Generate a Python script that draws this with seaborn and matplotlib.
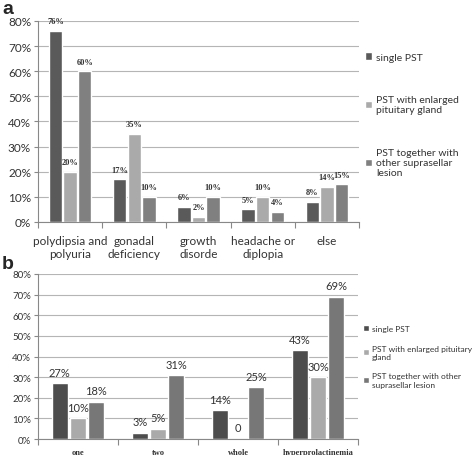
import pandas as pd
import seaborn as sns
import matplotlib.pyplot as plt
from matplotlib.ticker import PercentFormatter, FixedLocator

sns.set_style("white")
plt.rcParams['font.family'] = ['Lato', 'DejaVu Sans']

series = ['single PST', 'PST with enlarged pituitary gland',
          'PST together with other suprasellar lesion']

cats_a = ['polydipsia and\npolyuria', 'gonadal\ndeficiency', 'growth\ndisorde',
          'headache or\ndiplopia', 'else']
single_a = [76, 17, 6, 5, 8]
enlarged_a = [20, 35, 2, 10, 14]
together_a = [60, 10, 10, 4, 15]

cats_b = ['one', 'two', 'whole', 'hyperprolactinemia']
single_b = [27, 3, 14, 43]
enlarged_b = [10, 5, 0, 30]
together_b = [18, 31, 25, 69]

legend_a = ['single PST', 'PST with enlarged\npituitary gland',
            'PST together with\nother suprasellar\nlesion']
legend_b = ['single PST', 'PST with enlarged pituitary\ngland',
            'PST together with other\nsuprasellar lesion']


def make_df(cats, vals):
    rows = []
    for s, v in zip(series, vals):
        for c, x in zip(cats, v):
            rows.append({'cat': c, 'group': s, 'value': x})
    return pd.DataFrame(rows)


def draw(ax, cats, vals, colors, leg_labels, lab_font, lab_size, xt_font, xt_size,
         yt_size, leg_kw):
    df = make_df(cats, vals)
    sns.barplot(data=df, x='cat', y='value', hue='group', palette=colors,
                width=0.68, gap=0.08, ax=ax, legend=True, saturation=1)
    for cont, v in zip(ax.containers, vals):
        ax.bar_label(cont, labels=[f'{x}%' if x else '0' for x in v],
                     padding=4, fontsize=lab_size, color='#333333', **lab_font)
    ax.set_ylim(0, 80)
    ax.set_xlim(-0.5, len(cats) - 0.5)
    ax.yaxis.set_major_locator(FixedLocator(range(0, 81, 10)))
    ax.yaxis.set_major_formatter(PercentFormatter(decimals=0))
    ax.yaxis.grid(True, color='#b5b5b5', lw=0.8)
    ax.set_axisbelow(True)
    ax.set_xlabel('')
    ax.set_ylabel('')
    for sp in ['top', 'right']:
        ax.spines[sp].set_visible(False)
    for sp in ['left', 'bottom']:
        ax.spines[sp].set_color('#888888')
        ax.spines[sp].set_linewidth(0.8)
    ax.tick_params(axis='y', left=True, length=3, color='#888888',
                   labelsize=yt_size, labelcolor='#333333', pad=2)
    ax.tick_params(axis='x', bottom=False, labelcolor='#333333', pad=6)
    ax.set_xticks(range(len(cats)))
    ax.set_xticklabels(cats, fontsize=xt_size, **xt_font)
    ax.set_xticks([i - 0.5 for i in range(len(cats) + 1)], minor=True)
    ax.tick_params(axis='x', which='minor', bottom=True, length=4,
                   color='#888888', width=0.8)
    h, _ = ax.get_legend_handles_labels()
    ax.legend(h, leg_labels, frameon=False, handlelength=0.7, handleheight=0.7,
              handletextpad=0.35, labelcolor='#333333', **leg_kw)


fig = plt.figure(figsize=(4.72, 4.56), dpi=100)

ax_a = fig.add_axes([0.0805, 0.511, 0.68, 0.441])
draw(ax_a, cats_a, [single_a, enlarged_a, together_a],
     ['#5a5a5a', '#aaaaaa', '#808080'], legend_a,
     {'fontweight': 'bold', 'family': 'Liberation Serif'}, 6, {}, 8.5, 8.5,
     dict(loc='upper left', bbox_to_anchor=(1.0, 0.875), fontsize=7.5,
          labelspacing=3.2, borderaxespad=0.2))

ax_b = fig.add_axes([0.0805, 0.035, 0.678, 0.362])
draw(ax_b, cats_b, [single_b, enlarged_b, together_b],
     ['#4d4d4d', '#aaaaaa', '#777777'], legend_b,
     {}, 8, {'fontweight': 'bold', 'family': 'Liberation Serif'}, 6, 7,
     dict(loc='upper left', bbox_to_anchor=(1.0, 0.72), fontsize=6,
          labelspacing=1.5, borderaxespad=0.2))
ax_b.tick_params(axis='x', pad=3)

fig.text(0.004, 0.998, 'a', fontsize=14, fontweight='bold', va='top',
         family='Liberation Sans')
fig.text(0.004, 0.438, 'b', fontsize=14, fontweight='bold', va='top',
         family='Liberation Sans')

fig.savefig('out.png', dpi=100)
